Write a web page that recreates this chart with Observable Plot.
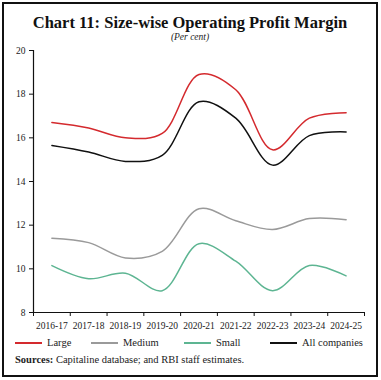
<!DOCTYPE html>
<html>
<head>
<meta charset="utf-8">
<script src="https://cdn.jsdelivr.net/npm/d3@7"></script>
<script src="https://cdn.jsdelivr.net/npm/@observablehq/plot@0.6"></script>
<style>
  body { margin: 0; background: #fff; }
  #frame { position: absolute; left: 2px; top: 2px; width: 372px; height: 371px; border: 2px solid #111; background: #fff; overflow: hidden; }
  #title { position: absolute; left: 0; top: 9px; width: 372px; text-align: center; font-family: "Liberation Serif", serif; font-weight: bold; font-size: 16.5px; color: #111; }
  #subtitle { position: absolute; left: 0; top: 28px; width: 372px; text-align: center; font-family: "Liberation Serif", serif; font-style: italic; font-size: 9.5px; color: #222; }
  #chart { position: absolute; left: 0; top: 36px; width: 372px; }
  #chart svg { max-width: none; }
  #legend { position: absolute; left: 0; top: 333px; width: 372px; font-family: "Liberation Serif", serif; font-size: 10.5px; color: #222; }
  .item { position: absolute; top: 0; white-space: nowrap; }
  .sw { display: inline-block; width: 27px; height: 2px; vertical-align: middle; margin-right: 5px; position: relative; top: -1px; }
  #sources { position: absolute; left: 11px; top: 350px; font-family: "Liberation Serif", serif; font-size: 10.5px; color: #222; white-space: nowrap; }
</style>
</head>
<body>
<div id="frame">
  <div id="title">Chart 11: Size-wise Operating Profit Margin</div>
  <div id="subtitle">(Per cent)</div>
  <div id="chart"></div>
  <div id="legend"></div>
  <div id="sources"><b>Sources:</b> Capitaline database; and RBI staff estimates.</div>
</div>
<script>
const years = ["2016-17","2017-18","2018-19","2019-20","2020-21","2021-22","2022-23","2023-24","2024-25"];
const large  = [16.7, 16.45, 16.0, 16.2, 18.9, 18.2, 15.45, 16.9, 17.15];
const medium = [11.4, 11.2, 10.5, 10.8, 12.75, 12.2, 11.8, 12.3, 12.25];
const small  = [10.15, 9.55, 9.8, 9.0, 11.15, 10.35, 9.0, 10.15, 9.68];
const allCo  = [15.65, 15.35, 14.92, 15.2, 17.65, 16.9, 14.75, 16.1, 16.27];
const seriesNames = ["Large","Medium","Small","All companies"];
const seriesValues = [large, medium, small, allCo];
const colors = ["#d42a2e","#9a9a9a","#5db592","#111111"];
const yTicks = [8,10,12,14,16,18,20];

const rows = [];
seriesNames.forEach((s, k) => seriesValues[k].forEach((v, i) => rows.push({series: s, i, value: v})));
const idx = years.map((_, i) => i);
const bounds = years.map((_, i) => i - 0.5).concat([years.length - 0.5]);

const font = "Liberation Serif, serif";
const plot = Plot.plot({
  width: 372, height: 300,
  marginLeft: 29, marginRight: 12, marginTop: 10, marginBottom: 28,
  style: {fontFamily: font, fontSize: "9.5px", color: "#222", background: "transparent"},
  x: {type: "linear", domain: [-0.5, years.length - 0.5]},
  y: {domain: [8, 20]},
  color: {domain: seriesNames, range: colors},
  marks: [
    Plot.axisY(yTicks, {tickSize: 4, tickPadding: 4, label: null, stroke: "#111"}),
    Plot.axisX(bounds, {tickSize: 4, tickFormat: () => "", label: null, stroke: "#111"}),
    Plot.axisX(idx, {tickSize: 0, tickPadding: 10, tickFormat: i => years[i], label: null}),
    Plot.ruleX([-0.5], {y1: 8, y2: 20, stroke: "#111", strokeWidth: 1.2}),
    Plot.ruleY([8], {stroke: "#111", strokeWidth: 1.2}),
    Plot.line(rows, {x: "i", y: "value", z: "series", stroke: "series", strokeWidth: 1.5, curve: "catmull-rom"})
  ]
});
document.getElementById("chart").appendChild(plot);

const lg = document.getElementById("legend");
const lefts = [11, 87, 180, 266];
seriesNames.forEach((s, k) => {
  const d = document.createElement("div");
  d.className = "item";
  d.style.left = lefts[k] + "px";
  d.innerHTML = `<span class="sw" style="background:${colors[k]}"></span>${s}`;
  lg.appendChild(d);
});
</script>
</body>
</html>
